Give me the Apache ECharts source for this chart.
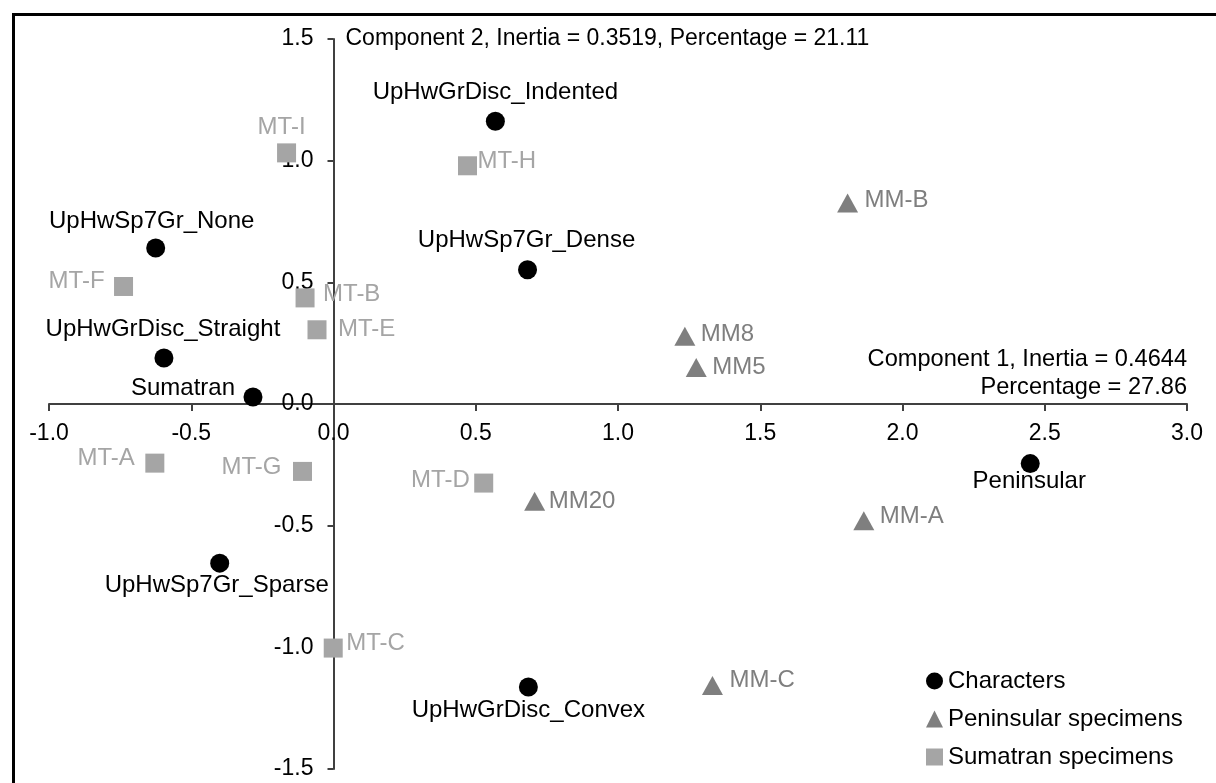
<!DOCTYPE html>
<html>
<head>
<meta charset="utf-8">
<script src="https://cdn.jsdelivr.net/npm/echarts@6.0.0/dist/echarts.min.js"></script>
</head>
<body style="margin:0;background:#fff;">
<div id="main" style="width:1216px;height:783px;"></div>
<script type="text/javascript">
// character states (black circles)
var charNames = ['UpHwGrDisc_Indented', 'UpHwSp7Gr_None', 'UpHwSp7Gr_Dense', 'UpHwGrDisc_Straight',
                 'Sumatran', 'Peninsular', 'UpHwSp7Gr_Sparse', 'UpHwGrDisc_Convex'];
var charX = [0.569, -0.625, 0.682, -0.596, -0.283, 2.449, -0.400, 0.685];
var charY = [1.162, 0.641, 0.552, 0.189, 0.029, -0.245, -0.654, -1.163];

// peninsular specimens (triangles)
var penNames = ['MM-B', 'MM8', 'MM5', 'MM20', 'MM-A', 'MM-C'];
var penX = [1.807, 1.235, 1.275, 0.707, 1.864, 1.332];
var penY = [0.826, 0.278, 0.150, -0.400, -0.480, -1.157];

// sumatran specimens (squares)
var sumNames = ['MT-I', 'MT-H', 'MT-F', 'MT-B', 'MT-E', 'MT-A', 'MT-G', 'MT-D', 'MT-C'];
var sumX = [-0.165, 0.471, -0.738, -0.100, -0.058, -0.628, -0.109, 0.528, -0.001];
var sumY = [1.032, 0.979, 0.483, 0.436, 0.305, -0.243, -0.277, -0.325, -1.003];

var xTitle = 'Component 1, Inertia = 0.4644\nPercentage = 27.86';
var yTitle = 'Component 2, Inertia = 0.3519, Percentage = 21.11';

// where each point label sits: text alignment + offset from the marker centre (px)
var labelPlace = {
    'UpHwGrDisc_Indented': ['center', 0, -29],
    'UpHwSp7Gr_None': ['center', -4, -27],
    'UpHwSp7Gr_Dense': ['center', -1, -29],
    'UpHwGrDisc_Straight': ['center', -1, -29],
    'Sumatran': ['right', -18, -9],
    'Peninsular': ['center', -1, 18],
    'UpHwSp7Gr_Sparse': ['center', -3, 22],
    'UpHwGrDisc_Convex': ['center', 0, 23],
    'MM-B': ['left', 17, -3],
    'MM8': ['left', 16, -2],
    'MM5': ['left', 16, 0],
    'MM20': ['left', 14, 0],
    'MM-A': ['left', 16, -4],
    'MM-C': ['left', 17, -5],
    'MT-I': ['center', -5, -26],
    'MT-H': ['left', 10, -4],
    'MT-F': ['right', -19, -5],
    'MT-B': ['left', 18, -4],
    'MT-E': ['left', 21, 0],
    'MT-A': ['right', -20, -5],
    'MT-G': ['right', -21, -4],
    'MT-D': ['right', -14, -3],
    'MT-C': ['left', 13, -5]
};

var font = '"Liberation Sans", Arial, sans-serif';

var makeData = function (names, xs, ys, color) {
    var res = [];
    for (var i = 0; i < names.length; i++) {
        var p = labelPlace[names[i]];
        res.push({
            name: names[i],
            value: [xs[i], ys[i]],
            label: {
                show: true,
                position: 'inside',
                formatter: '{b}',
                align: p[0],
                verticalAlign: 'middle',
                offset: [p[1], p[2]],
                color: color,
                fontSize: 24,
                fontFamily: font
            }
        });
    }
    return res;
};

var axisColor = '#404040';

// grid box (px); the axes cross at (0, 0) inside it
var gLeft = 49, gRight = 29, gTop = 39, gBottom = 14;
var W = 1216, H = 783;
var xMin = -1, xMax = 3, yMin = -1.5, yMax = 1.5;
// shift axes from the grid edges onto the zero lines
var yShift = -(W - gLeft - gRight) * (0 - xMin) / (xMax - xMin);
var xShift = -(H - gTop - gBottom) * (0 - yMin) / (yMax - yMin);

var myChart = echarts.init(document.getElementById('main'));

var option = {
    backgroundColor: '#fff',
    animation: false,
    textStyle: { fontFamily: font },
    graphic: [{
        type: 'rect',
        shape: { x: 13.5, y: 14.5, width: 1300, height: 900 },
        style: { fill: 'none', stroke: '#000', lineWidth: 3 },
        silent: true
    }],
    grid: { left: gLeft, right: gRight, top: gTop, bottom: gBottom, outerBoundsMode: 'none' },
    legend: {
        orient: 'vertical',
        left: 926,
        top: 669,
        padding: 0,
        itemWidth: 17,
        itemHeight: 17,
        itemGap: 14,
        textStyle: { color: '#000', fontSize: 24, fontFamily: font, lineHeight: 24 },
        data: ['Characters', 'Peninsular specimens', 'Sumatran specimens']
    },
    xAxis: {
        type: 'value',
        position: 'bottom',
        offset: xShift,
        min: xMin,
        max: xMax,
        interval: 0.5,
        name: xTitle,
        nameLocation: 'end',
        nameGap: 0,
        nameMoveOverlap: false,
        nameTextStyle: {
            align: 'right', verticalAlign: 'bottom', lineHeight: 28,
            padding: [0, 0, 3, 0], color: '#000', fontSize: 23.6, fontFamily: font
        },
        axisLine: { onZero: false, lineStyle: { color: axisColor, width: 2 } },
        axisTick: { length: 7, lineStyle: { color: axisColor, width: 2 } },
        axisLabel: {
            margin: 18, color: '#000', fontSize: 23, fontFamily: font,
            formatter: function (v) { return v.toFixed(1); }
        },
        splitLine: { show: false }
    },
    yAxis: {
        type: 'value',
        position: 'left',
        offset: yShift,
        min: yMin,
        max: yMax,
        interval: 0.5,
        name: yTitle,
        nameLocation: 'end',
        nameGap: 0,
        nameMoveOverlap: false,
        nameTextStyle: {
            align: 'left', verticalAlign: 'middle',
            padding: [0, 0, 0, 12], color: '#000', fontSize: 23, fontFamily: font
        },
        axisLine: { onZero: false, lineStyle: { color: axisColor, width: 2 } },
        axisTick: { length: 6, lineStyle: { color: axisColor, width: 2 } },
        axisLabel: {
            margin: 20, color: '#000', fontSize: 23, fontFamily: font,
            formatter: function (v) { return v.toFixed(1); }
        },
        splitLine: { show: false }
    },
    series: [
        {
            name: 'Characters',
            type: 'scatter',
            symbol: 'circle',
            symbolSize: 19,
            itemStyle: { color: '#000', opacity: 1 },
            data: makeData(charNames, charX, charY, '#000'),
            z: 3
        },
        {
            name: 'Peninsular specimens',
            type: 'scatter',
            symbol: 'triangle',
            symbolSize: [21, 19],
            itemStyle: { color: '#7f7f7f', opacity: 1 },
            data: makeData(penNames, penX, penY, '#7f7f7f'),
            z: 2
        },
        {
            name: 'Sumatran specimens',
            type: 'scatter',
            symbol: 'rect',
            symbolSize: 19,
            itemStyle: { color: '#a5a5a5', opacity: 1 },
            data: makeData(sumNames, sumX, sumY, '#a5a5a5'),
            z: 2
        }
    ]
};

myChart.setOption(option);
</script>
</body>
</html>
